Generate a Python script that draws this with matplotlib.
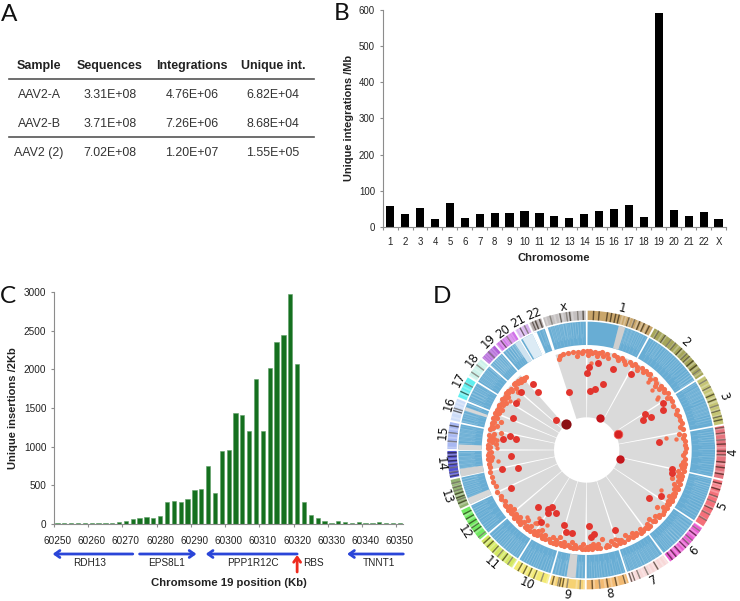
import numpy as np
import matplotlib
matplotlib.use("Agg")
import matplotlib.pyplot as plt
from matplotlib.transforms import blended_transform_factory

plt.rcParams['font.family'] = ['Liberation Sans', 'DejaVu Sans']
W, H = 740, 601

# ---------- Panel A ----------
table_columns = ["Sample", "Sequences", "Integrations", "Unique int."]
table_samples = ["AAV2-A", "AAV2-B", "AAV2 (2)"]
table_sequences = ["3.31E+08", "3.71E+08", "7.02E+08"]
table_integrations = ["4.76E+06", "7.26E+06", "1.20E+07"]
table_unique = ["6.82E+04", "8.68E+04", "1.55E+05"]

# ---------- Panel B ----------
chromosomes = [str(i) for i in range(1, 23)] + ["X"]
integrations_per_mb = [59, 36, 53, 23, 67, 25, 35, 39, 38, 43, 38, 31, 26, 35, 43, 51, 61, 27, 591, 47, 30, 42, 23]

# ---------- Panel C ----------
position_ticks = list(range(60250, 60351, 10))
bin_centres = list(range(60251, 60353, 2))
insertions = [10, 5, 15, 8, 10, 10, 15, 15, 15, 20,
              35, 55, 75, 85, 75, 100, 275, 295, 285, 320,
              440, 445, 750, 400, 940, 950, 1435, 1415, 1205, 1875,
              1205, 2025, 2355, 2445, 2980, 2065, 275, 115, 75, 35,
              15, 40, 25, 15, 20, 5, 5, 20, 10, 5, 8]
gene_names = ["RDH13", "EPS8L1", "PPP1R12C", "TNNT1"]
gene_start = [60273, 60275, 60321, 60352]
gene_end = [60249.6, 60291.6, 60294.3, 60335.6]
gene_label_at = [60260.3, 60283, 60308, 60345]
rbs_position = 60321

# ---------- Panel D ----------
ring_labels = [str(i) for i in range(1, 23)] + ["x"]
label_east = [107, 295, 410, 440, 407, 323, 200, 71, -59, -180, -285, -365, -420, -437, -430, -413, -382, -342, -295, -250, -205, -160, -70]
label_north = [423, 323, 162, -7, -168, -302, -390, -433, -435, -400, -340, -247, -140, -43, 52, 140, 210, 270, 325, 355, 385, 407, 430]
chrom_end_deg = [28.8, 57.5, 79.5, 102.4, 123.6, 143.6, 162, 180.4, 196, 212, 229.6, 244.7,
                 258, 270, 282, 292, 301.8, 311, 319, 328.8, 335.3, 341.3, 360]
chrom_colors = ['#c9a66b', '#a5a55a', '#c4c474', '#e4747e', '#f4707a', '#ea5cd2', '#f7d8d8', '#f2ba72',
                '#f6d272', '#f3ea74', '#d4e862', '#72ea62', '#92b272', '#5252d2', '#a8b8f2', '#ccdcf8',
                '#60f0f0', '#ccf2ea', '#b060d8', '#d072e8', '#d8b2f0', '#b4aaaa', '#c4c0c0']
chrom_bands = [
    [.1, .18, .3, .36, .42, .47, .62, .7, .78, .85, .93], [.08, .2, .3, .38, .5, .6, .66, .74, .82, .9],
    [.1, .25, .4, .5, .62, .72, .83, .9], [.05, .15, .27, .35, .48, .55, .68, .78, .9],
    [.08, .2, .35, .46, .6, .72, .85], [.1, .22, .35, .45, .55, .7, .82, .92],
    [.3, .55, .75, .88, .95], [.1, .3, .5, .68, .85], [.15, .5, .62, .7, .75, .9],
    [.2, .4, .55, .7, .85], [.15, .3, .45, .6, .78, .9], [.1, .3, .42, .55, .7, .85],
    [.2, .3, .38, .5, .6, .72, .85], [.1, .22, .38, .5, .62, .78, .9], [.3, .6, .85],
    [.45, .55], [.3, .7], [.25, .65], [.5], [.3, .6], [.4, .7], [.3, .5, .8], [.18, .4, .55, .62, .8, .92]]
blue_streaks = [
    [.55, .6, .66, .72, .78, .85, .92], [.1, .18, .24, .33, .4, .47, .55, .62, .7, .8, .88, .93, .97],
    [.05, .14, .22, .3, .38, .5, .58, .66, .74, .85], [.1, .2, .3, .45, .6, .75, .9],
    [.05, .15, .2, .3, .4, .5, .62, .75, .88], [.06, .14, .22, .3, .4, .48, .55, .62, .7, .8, .9],
    [.1, .2, .3, .4, .5, .58, .68, .78, .88, .95], [.12, .3, .45, .6, .72, .85],
    [.1, .2, .3, .55, .62, .8, .9], [.1, .25, .42, .55, .7, .85], [.08, .2, .3, .42, .5, .62, .75, .9],
    [.15, .3, .5, .7, .85], [.2, .35, .5, .65, .8, .9], [.2, .3, .45, .6, .75, .9],
    [.15, .35, .5, .65, .8], [.1, .25, .45, .6, .75, .9], [.1, .3, .45, .6, .8],
    [.15, .35, .55, .75, .9], [.1, .22, .35, .48, .6, .72, .85], [.15, .3, .42, .55, .65, .72, .8, .9],
    [.2, .4, .6, .8], [.2, .5, .8], [.12, .22, .32, .42, .5, .6, .72, .85]]
ring_patch_start = [14.5, 185, 245, 258, 270, 288, 326, 330, 335.5, 341.3]
ring_patch_end = [17.5, 189, 248, 261.5, 272.5, 289.5, 328.6, 335, 337, 342.3]
ring_patch_color = ['#cfcfcf', '#d2d2d2', '#d8d8d8', '#d2d2d2', '#d8d8d8', '#d8d8d8', '#cfe3f0', '#dcebf5', '#ffffff', '#ffffff']

hit_darkest_e, hit_darkest_n = [-63], [78]
hit_strong_e = [39, 101]
hit_strong_n = [97, -28]
hit_mid_e = [93]
hit_mid_n = [48]
dot_east = [-92, -53, 8, 2, 34, 78, 50, 24, 10, 132, 175, 192, 169, 229, 229, 217, 256, 257, 222, 188,
            85, 23, 14, 6, -45, -63, -68, -136, -146, -104, -115, -115, -93, -228, -253, -205, -227,
            -213, -230, -252, -222, -213, -198, -146, -162]
dot_north = [91, 175, 249, 231, 262, 242, 199, 182, 177, 227, 107, 100, 89, 141, 121, 25, -56, -70, -138, -143,
             -241, -253, -260, -227, -249, -247, -226, -217, -172, -172, -177, -188, -188, -115, -58, -54, -18,
             33, 41, 33, 95, 140, 173, 175, 197]
band_theta = [343, 344, 346, 349, 352, 354, 355, 357, 358, 0, 1, 2, 3, 5, 6, 7, 9, 10, 12, 13,
              16, 18, 19, 21, 23, 24, 26, 28, 29, 31, 32, 34, 36, 37, 39, 40, 42, 44, 46, 47,
              49, 50, 52, 53, 55, 57, 58, 60, 63, 66, 68, 70, 72, 74, 76, 78, 80, 81, 83, 85,
              87, 89, 91, 93, 95, 97, 98, 99, 100, 101, 102, 103, 104, 105, 106, 107, 108, 109,
              110, 111, 112, 113, 114, 116, 117, 118, 119, 120, 121, 122, 123, 124, 126, 127, 128,
              129, 130, 132, 133, 134, 136, 137, 138, 140, 141, 142, 143, 145, 146, 147, 149, 150,
              151, 152, 154, 155, 156, 158, 159, 160, 161, 163, 164, 165, 167, 168, 169, 170, 172,
              173, 174, 175, 176, 177, 178, 179, 180, 181, 182, 183, 184, 186, 187, 188, 189, 190,
              191, 193, 194, 195, 196, 197, 198, 199, 200, 201, 202, 203, 205, 206, 207, 208, 209,
              210, 211, 212, 213, 214, 215, 216, 217, 218, 219, 220, 221, 222, 223, 224, 225, 226,
              227, 228, 229, 230, 231, 232, 233, 234, 235, 236, 238, 240, 242, 245, 248, 251, 254,
              257, 260, 262, 264, 265, 266, 267, 268, 269, 271, 272, 273, 274, 275, 276, 277, 278,
              279, 280, 281, 282, 283, 284, 285, 286, 287, 288, 289, 290, 291, 292, 293, 294, 295,
              296, 297, 298, 299, 300, 301, 302, 303, 304, 305, 306, 307, 308, 309, 310, 311, 312,
              313, 314, 315, 316, 317, 318, 319, 320]
band_r = [285, 293, 296, 296, 297, 283, 295, 290, 296, 297, 285, 296, 290, 296, 284, 293, 297, 287, 295, 283,
          297, 292, 285, 296, 290, 282, 295, 288, 296, 292, 283, 296, 289, 297, 293, 297, 285, 296, 290, 280,
          294, 284, 296, 290, 297, 286, 294, 296, 290, 297, 288, 296, 293, 297, 287, 296, 282, 297, 290, 296,
          294, 297, 296, 290, 297, 292, 297, 285, 296, 290, 297, 280, 293, 297, 285, 295, 270, 290,
          297, 282, 293, 296, 287, 296, 290, 297, 283, 294, 297, 288, 296, 291, 297, 285, 295,
          270, 297, 290, 296, 283, 297, 290, 280, 296, 287, 297, 292, 296, 285, 297, 290, 296,
          283, 297, 291, 296, 280, 297, 290, 296, 285, 297, 292, 283, 296, 290, 297, 270, 296,
          285, 297, 291, 282, 296, 288, 297, 290, 296, 283, 297, 291, 296, 287, 297, 280, 296,
          290, 297, 285, 296, 291, 273, 297, 287, 296, 280, 297, 290, 296, 284, 297, 289, 275,
          296, 285, 297, 290, 265, 296, 282, 297, 290, 296, 275, 287, 297, 292, 296, 283, 290,
          297, 285, 293, 296, 280, 290, 297, 286, 294, 297, 288, 296, 291, 297, 292, 296, 295,
          297, 294, 297, 290, 296, 284, 297, 292, 287, 296, 290, 297, 272, 285, 296, 280, 290,
          296, 283, 262, 297, 288, 294, 280, 296, 290, 270, 297, 285, 293, 297, 287, 296, 282,
          293, 296, 286, 291, 280, 296, 288, 293, 284, 296, 290, 295, 286, 292, 270, 283, 295,
          296, 288, 292, 285, 290, 282, 287, 284]
stray_east = [-270, -266, 267, 185, 197, 215, 210, 237, 223, -155, -178, -268, -230, -120, -142, 12, 85, -205]
stray_north = [5, -33, 34, 205, 180, 160, 152, 35, -120, -218, -200, 31, 146, -224, -205, 260, -268, 150]

# ---------- helpers (reference pixel -> figure fraction) ----------
def fx(x): return x / W
def fy(y): return 1 - y / H
def rect(l, t, r, b): return [fx(l), fy(b), (r - l) / W, (b - t) / H]

fig = plt.figure(figsize=(W / 100, H / 100), dpi=100)

# Panel letters
for letter, x, y in [("A", 1, 21), ("B", 334, 20), ("C", 0, 303), ("D", 433, 303)]:
    fig.text(fx(x), fy(y), letter, fontsize=17.5, family='Lato', color='#111111', va='baseline', ha='left')

# Panel A
col_x = [39, 110, 192, 273]
for name, x in zip(table_columns, col_x):
    fig.text(fx(x), fy(65.5), name, fontsize=9, fontweight='bold', ha='center', va='center', color='#222222')
for column, x in zip([table_samples, table_sequences, table_integrations, table_unique], col_x):
    for cell, y in zip(column, [95, 124, 153]):
        fig.text(fx(x), fy(y), cell, fontsize=8.9, ha='center', va='center', color='#333333')
for y in (79, 137):
    fig.add_artist(plt.Line2D([fx(9), fx(314)], [fy(y), fy(y)], color='#555555', lw=1.2))

GREY = '#8c8c8c'
# Panel B
axb = fig.add_axes(rect(382.7, 9.7, 726, 227))
axb.bar(range(len(chromosomes)), integrations_per_mb, width=0.55, color='black')
axb.set_xlim(-0.5, 22.5)
axb.set_ylim(0, 600)
axb.set_yticks(range(0, 601, 100))
axb.set_xticks(range(len(chromosomes)))
axb.set_xticklabels(chromosomes)
axb.set_xticks(np.arange(-0.5, 23, 1), minor=True)
axb.tick_params(axis='x', which='major', length=0, labelsize=6.9, pad=7.5, labelcolor='#222222')
axb.tick_params(axis='x', which='minor', length=2.2, color=GREY, width=.8)
axb.tick_params(axis='y', length=2.5, color=GREY, width=.8, labelsize=6.9, pad=3, labelcolor='#222222')
for s in ('top', 'right'):
    axb.spines[s].set_visible(False)
for s in ('left', 'bottom'):
    axb.spines[s].set_color(GREY)
fig.text(fx(349), fy(118), "Unique integrations /Mb", rotation=90, fontsize=7.9, fontweight='bold', ha='center', va='center', color='#222222')
fig.text(fx(554), fy(258), "Chromosome", fontsize=8.1, fontweight='bold', ha='center', va='center', color='#222222')

# Panel C
axc = fig.add_axes(rect(54, 292.3, 403.3, 523.7))
axc.bar(bin_centres, insertions, width=1.25, color='#15701f', edgecolor='#5f9e68', linewidth=0.4)
axc.set_xlim(60250, 60352)
axc.set_ylim(0, 3000)
axc.set_yticks(range(0, 3001, 500))
axc.set_xticks(position_ticks)
axc.set_xticklabels([])
axc.set_xticks([p + 1 for p in position_ticks], labels=[str(p) for p in position_ticks], minor=True)
axc.tick_params(axis='x', which='major', length=2.5, color=GREY, width=.8)
axc.tick_params(axis='x', which='minor', length=0, labelsize=7.2, pad=9, labelcolor='#222222')
axc.tick_params(axis='y', length=2.5, color=GREY, width=.8, labelsize=7.2, pad=3, labelcolor='#222222')
for s in ('top', 'right'):
    axc.spines[s].set_visible(False)
for s in ('left', 'bottom'):
    axc.spines[s].set_color(GREY)
tr = blended_transform_factory(axc.transData, fig.transFigure)
for name, a, b, lab in zip(gene_names, gene_start, gene_end, gene_label_at):
    axc.annotate("", xy=(b, fy(554)), xytext=(a, fy(554)), xycoords=tr, textcoords=tr,
                 arrowprops=dict(arrowstyle='->,head_length=0.35,head_width=0.25', color='#2a45d8', lw=2, shrinkA=0, shrinkB=0), annotation_clip=False)
    axc.text(lab, fy(563.5), name, transform=tr, fontsize=7.2, ha='center', va='center', color='#222222', clip_on=False)
axc.annotate("", xy=(rbs_position, fy(555)), xytext=(rbs_position, fy(572)), xycoords=tr, textcoords=tr,
             arrowprops=dict(arrowstyle='->,head_length=0.35,head_width=0.25', color='#ee2a1e', lw=2, shrinkA=0, shrinkB=0), annotation_clip=False)
axc.text(60325.7, fy(563.5), "RBS", transform=tr, fontsize=7.2, ha='center', va='center', color='#222222', clip_on=False)
fig.text(fx(13), fy(407.7), "Unique insertions /2Kb", rotation=90, fontsize=8, fontweight='bold', ha='center', va='center', color='#222222')
fig.text(fx(229), fy(583.5), "Chromsome 19 position (Kb)", fontsize=8.2, fontweight='bold', ha='center', va='center', color='#222222')

# Panel D (radial unit: 1/3 of a reference pixel)
cx, cy, rmax = 586.7, 450, 450
axd = fig.add_axes(rect(cx - rmax / 3, cy - rmax / 3, cx + rmax / 3, cy + rmax / 3), projection='polar')
axd.set_theta_zero_location('N')
axd.set_theta_direction(-1)
axd.set_ylim(0, rmax)
axd.axis('off')

starts = [0] + chrom_end_deg[:-1]
GAP = 0.4
for i, (a, b) in enumerate(zip(starts, chrom_end_deg)):
    span = b - a
    mid = np.radians((a + b) / 2)
    w = np.radians(span - 2 * GAP)
    # ideogram
    axd.bar(mid, 28, width=w, bottom=390, color=chrom_colors[i], linewidth=0)
    for f in chrom_bands[i]:
        axd.bar(np.radians(a + f * span), 28, width=np.radians(0.6), bottom=390, color='#1c1408', alpha=.6, linewidth=0)
    for f in blue_streaks[i]:
        axd.bar(np.radians(a + f * span - 0.8), 28, width=np.radians(0.8), bottom=390, color='white', alpha=.28, linewidth=0)
    # blue track
    axd.bar(mid, 70, width=w, bottom=315, color='#68add4', linewidth=0)
    for f in blue_streaks[i]:
        t = a + f * span
        axd.bar(np.radians(t), 50, width=np.radians(0.4), bottom=335, color='white', alpha=.2, linewidth=0)
        axd.bar(np.radians(t + 0.7), 30, width=np.radians(0.3), bottom=318, color='white', alpha=.14, linewidth=0)
        if a < t - 1.2 and t + 1.2 < b:
            axd.bar(np.radians(t - 1.2), 38, width=np.radians(0.3), bottom=345, color='white', alpha=.16, linewidth=0)
            axd.bar(np.radians(t + 1.2), 45, width=np.radians(0.3), bottom=338, color='white', alpha=.14, linewidth=0)
    # grey sector (chromosomes 20-22 empty)
    if i not in (19, 20, 21):
        axd.bar(mid, 202, width=np.radians(span - 1.0), bottom=98, color='#dadada', linewidth=0)

for a, b, c in zip(ring_patch_start, ring_patch_end, ring_patch_color):
    axd.bar(np.radians((a + b) / 2), 70, width=np.radians(b - a), bottom=315, color=c, linewidth=0)

axd.scatter(np.radians(band_theta), band_r, s=14, color='#f4704f', linewidth=0, zorder=4)
axd.scatter(np.arctan2(stray_east, stray_north), np.hypot(stray_east, stray_north), s=10, color='#f4704f', linewidth=0, zorder=4)
axd.scatter(np.arctan2(dot_east, dot_north), np.hypot(dot_east, dot_north), s=25, color='#e2352e', linewidth=0, zorder=5)
axd.scatter(np.arctan2(hit_mid_e, hit_mid_n), np.hypot(hit_mid_e, hit_mid_n), s=38, color='#d62222', edgecolor='#ee5a50', linewidth=.6, zorder=6)
axd.scatter(np.arctan2(hit_strong_e, hit_strong_n), np.hypot(hit_strong_e, hit_strong_n), s=36, color='#c4161c', linewidth=0, zorder=6)
axd.scatter(np.arctan2(hit_darkest_e, hit_darkest_n), np.hypot(hit_darkest_e, hit_darkest_n), s=54, color='#8b0f14', linewidth=0, zorder=6)

for i, (a, b) in enumerate(zip(starts, chrom_end_deg)):
    m = (a + b) / 2
    rot = 180 - m if 90 < m < 270 else -m
    axd.text(np.arctan2(label_east[i], label_north[i]), np.hypot(label_east[i], label_north[i]), ring_labels[i],
             fontsize=8.5, family='DejaVu Sans', rotation=rot, rotation_mode='anchor',
             ha='center', va='center', color='#111111', clip_on=False)

fig.savefig("out.png", dpi=100, facecolor='white')
